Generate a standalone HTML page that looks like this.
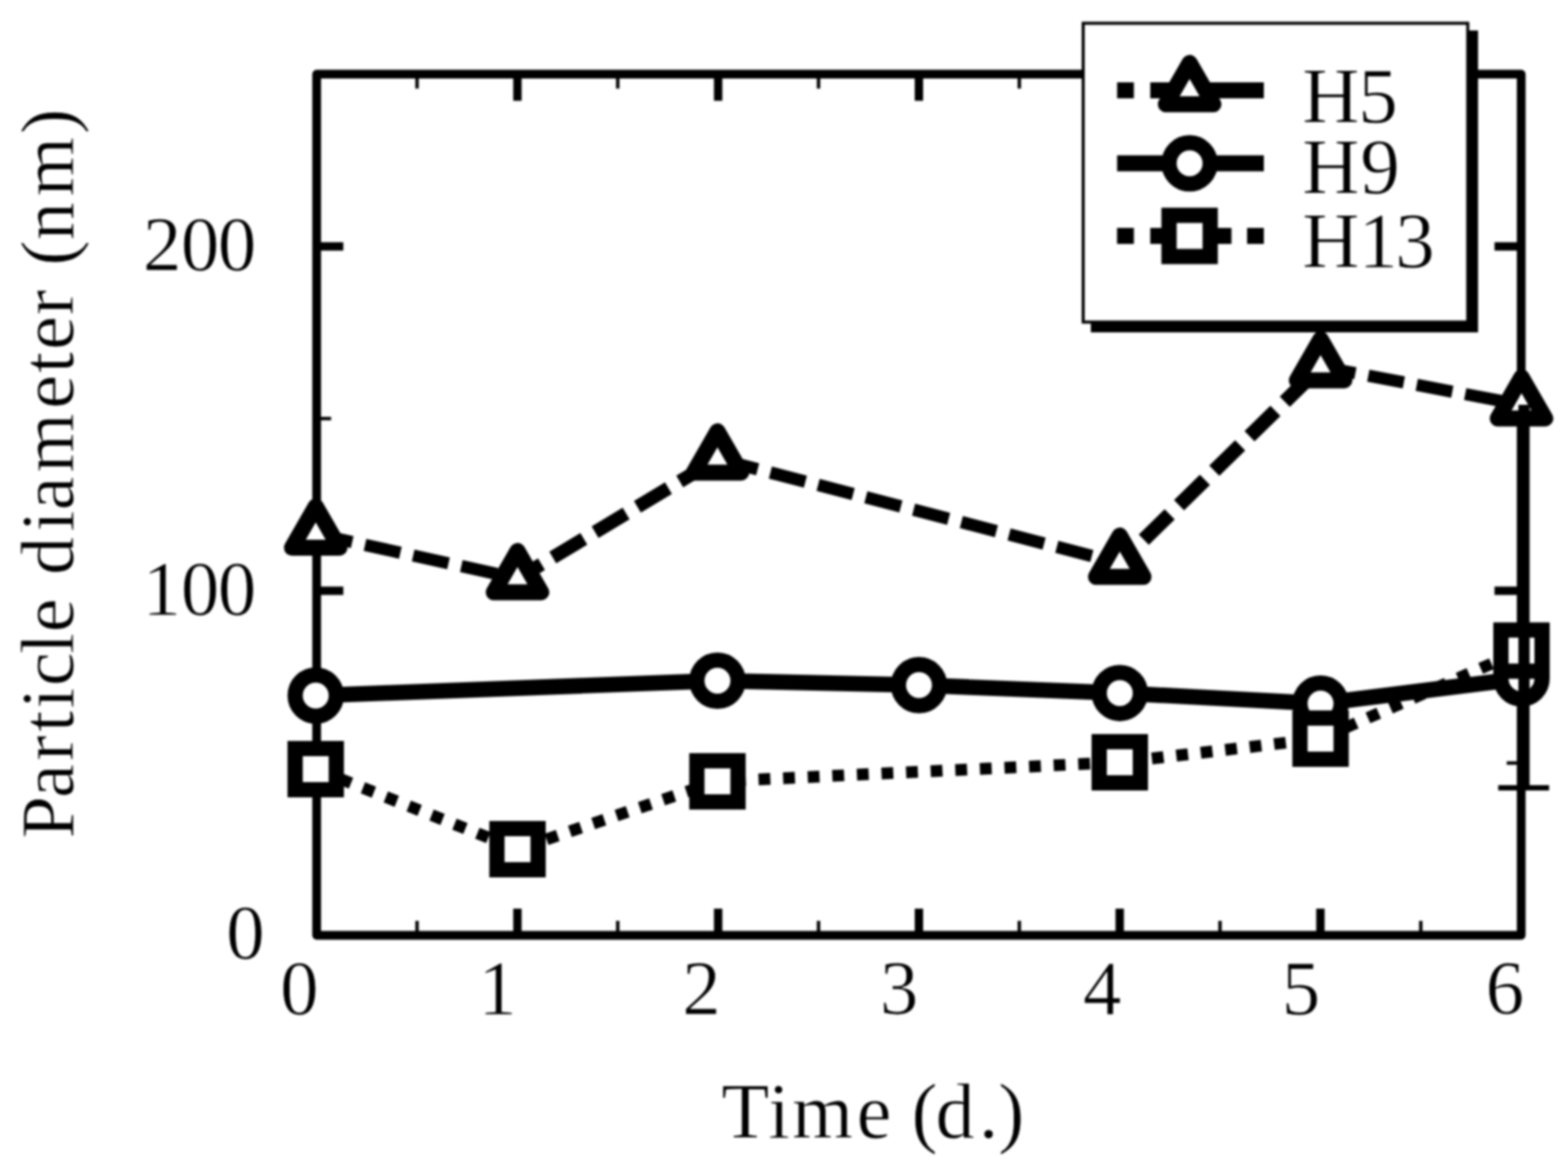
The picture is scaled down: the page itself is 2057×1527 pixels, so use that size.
<!DOCTYPE html>
<html lang="en"><head><meta charset="utf-8"><title>Particle diameter vs. time</title>
<style>html,body{margin:0;padding:0;background:#fff;}body{width:2057px;height:1527px;overflow:hidden;}svg{display:block;filter:blur(1.4px);}text{font-family:"Liberation Serif","DejaVu Serif",serif;fill:#000;}</style>
</head><body>
<svg width="2057" height="1527" viewBox="0 0 2057 1527">
<rect x="0" y="0" width="2057" height="1527" fill="#fff"/>
<g id="axes" stroke="#000" fill="none" stroke-linecap="round">
<rect x="415.4" y="97.2" width="1580.2" height="1129.8" stroke-width="11.5" stroke-linejoin="round"/>
<line x1="678.8" y1="1227.0" x2="678.8" y2="1192.0" stroke-width="11.0" stroke-linecap="butt"/>
<line x1="678.8" y1="97.2" x2="678.8" y2="132.2" stroke-width="11.0" stroke-linecap="butt"/>
<line x1="942.1" y1="1227.0" x2="942.1" y2="1192.0" stroke-width="11.0" stroke-linecap="butt"/>
<line x1="942.1" y1="97.2" x2="942.1" y2="132.2" stroke-width="11.0" stroke-linecap="butt"/>
<line x1="1205.5" y1="1227.0" x2="1205.5" y2="1192.0" stroke-width="11.0" stroke-linecap="butt"/>
<line x1="1205.5" y1="97.2" x2="1205.5" y2="132.2" stroke-width="11.0" stroke-linecap="butt"/>
<line x1="1468.9" y1="1227.0" x2="1468.9" y2="1192.0" stroke-width="11.0" stroke-linecap="butt"/>
<line x1="1468.9" y1="97.2" x2="1468.9" y2="132.2" stroke-width="11.0" stroke-linecap="butt"/>
<line x1="1732.2" y1="1227.0" x2="1732.2" y2="1192.0" stroke-width="11.0" stroke-linecap="butt"/>
<line x1="1732.2" y1="97.2" x2="1732.2" y2="132.2" stroke-width="11.0" stroke-linecap="butt"/>
<line x1="547.1" y1="1227.0" x2="547.1" y2="1208.0" stroke-width="4.5" stroke-linecap="butt"/>
<line x1="547.1" y1="97.2" x2="547.1" y2="116.2" stroke-width="4.5" stroke-linecap="butt"/>
<line x1="810.4" y1="1227.0" x2="810.4" y2="1208.0" stroke-width="4.5" stroke-linecap="butt"/>
<line x1="810.4" y1="97.2" x2="810.4" y2="116.2" stroke-width="4.5" stroke-linecap="butt"/>
<line x1="1073.8" y1="1227.0" x2="1073.8" y2="1208.0" stroke-width="4.5" stroke-linecap="butt"/>
<line x1="1073.8" y1="97.2" x2="1073.8" y2="116.2" stroke-width="4.5" stroke-linecap="butt"/>
<line x1="1337.2" y1="1227.0" x2="1337.2" y2="1208.0" stroke-width="4.5" stroke-linecap="butt"/>
<line x1="1337.2" y1="97.2" x2="1337.2" y2="116.2" stroke-width="4.5" stroke-linecap="butt"/>
<line x1="1600.5" y1="1227.0" x2="1600.5" y2="1208.0" stroke-width="4.5" stroke-linecap="butt"/>
<line x1="1600.5" y1="97.2" x2="1600.5" y2="116.2" stroke-width="4.5" stroke-linecap="butt"/>
<line x1="1863.9" y1="1227.0" x2="1863.9" y2="1208.0" stroke-width="4.5" stroke-linecap="butt"/>
<line x1="1863.9" y1="97.2" x2="1863.9" y2="116.2" stroke-width="4.5" stroke-linecap="butt"/>
<line x1="415.4" y1="775.1" x2="450.4" y2="775.1" stroke-width="11.0" stroke-linecap="butt"/>
<line x1="1995.6" y1="775.1" x2="1960.6" y2="775.1" stroke-width="11.0" stroke-linecap="butt"/>
<line x1="415.4" y1="323.2" x2="450.4" y2="323.2" stroke-width="11.0" stroke-linecap="butt"/>
<line x1="1995.6" y1="323.2" x2="1960.6" y2="323.2" stroke-width="11.0" stroke-linecap="butt"/>
<line x1="415.4" y1="1001.0" x2="434.4" y2="1001.0" stroke-width="4.5" stroke-linecap="butt"/>
<line x1="1995.6" y1="1001.0" x2="1976.6" y2="1001.0" stroke-width="4.5" stroke-linecap="butt"/>
<line x1="415.4" y1="549.1" x2="434.4" y2="549.1" stroke-width="4.5" stroke-linecap="butt"/>
<line x1="1995.6" y1="549.1" x2="1976.6" y2="549.1" stroke-width="4.5" stroke-linecap="butt"/>
</g>
<g id="series" stroke="#000" fill="none">
<line x1="414.2" y1="700.5" x2="678.9" y2="759.0" stroke-width="16.1" stroke-dasharray="47.5 17.2" stroke-dashoffset="63.2"/>
<line x1="678.9" y1="759.0" x2="941.2" y2="602.0" stroke-width="17.7" stroke-dasharray="47.5 17.2" stroke-dashoffset="10.8"/>
<line x1="941.2" y1="602.0" x2="1469.0" y2="738.8" stroke-width="16.3" stroke-dasharray="47.5 17.2" stroke-dashoffset="57.7"/>
<line x1="1469.0" y1="738.8" x2="1732.4" y2="481.0" stroke-width="18.9" stroke-dasharray="47.5 17.2" stroke-dashoffset="20.6"/>
<line x1="1732.4" y1="481.0" x2="1996.0" y2="531.0" stroke-width="16.0" stroke-dasharray="47.5 17.2" stroke-dashoffset="1.0"/>
<polyline points="414.2,912.5 941.2,893.0 1205.6,898.8 1469.0,909.2 1732.4,923.0 1996.0,890.0" stroke-width="20.5" stroke-linejoin="round"/>
<polyline points="414.2,1009.0 678.9,1114.0 941.2,1025.0 1469.0,1000.0 1732.4,969.0 1996.0,853.5" stroke-width="15.5" stroke-dasharray="15.5 16.8" stroke-dashoffset="-2"/>
<path d="M414.2 664.3 L445.4 718.5 L383.0 718.5 Z" stroke-width="21" stroke-linejoin="round" fill="#fff"/>
<path d="M678.9 722.8 L710.1 777.0 L647.7 777.0 Z" stroke-width="21" stroke-linejoin="round" fill="#fff"/>
<path d="M941.2 565.8 L972.4 620.0 L910.0 620.0 Z" stroke-width="21" stroke-linejoin="round" fill="#fff"/>
<path d="M1469.0 702.6 L1500.2 756.8 L1437.8 756.8 Z" stroke-width="21" stroke-linejoin="round" fill="#fff"/>
<path d="M1732.4 444.8 L1763.6 499.0 L1701.2 499.0 Z" stroke-width="21" stroke-linejoin="round" fill="#fff"/>
<path d="M1996.0 494.8 L2027.2 549.0 L1964.8 549.0 Z" stroke-width="21" stroke-linejoin="round" fill="#fff"/>
<circle cx="414.2" cy="912.5" r="27" stroke-width="20" fill="#fff"/>
<circle cx="941.2" cy="893.0" r="27" stroke-width="20" fill="#fff"/>
<circle cx="1205.6" cy="898.8" r="27" stroke-width="20" fill="#fff"/>
<circle cx="1469.0" cy="909.2" r="27" stroke-width="20" fill="#fff"/>
<circle cx="1732.4" cy="923.0" r="27" stroke-width="20" fill="#fff"/>
<circle cx="1996.0" cy="890.0" r="27" stroke-width="20" fill="#fff"/>
<rect x="387.2" y="982.0" width="54" height="54" stroke-width="20" fill="#fff"/>
<rect x="651.9" y="1087.0" width="54" height="54" stroke-width="20" fill="#fff"/>
<rect x="914.2" y="998.0" width="54" height="54" stroke-width="20" fill="#fff"/>
<rect x="1442.0" y="973.0" width="54" height="54" stroke-width="20" fill="#fff"/>
<rect x="1705.4" y="942.0" width="54" height="54" stroke-width="20" fill="#fff"/>
<rect x="1969.0" y="826.5" width="54" height="54" stroke-width="20" fill="#fff"/>
<line x1="1999.3" y1="531" x2="1999.3" y2="1033.5" stroke-width="14.7"/>
<line x1="1965.5" y1="1033.5" x2="2032.2" y2="1033.5" stroke-width="7"/>
</g>
<g id="legend" stroke="#000">
<rect x="1431" y="40" width="508" height="396" fill="#000" stroke="none"/>
<rect x="1421" y="30.5" width="504.5" height="392" fill="#fff" stroke-width="4"/>
<g fill="none">
<line x1="1465.5" y1="118.5" x2="1487.5" y2="118.5" stroke-width="21"/>
<line x1="1509" y1="118.5" x2="1658" y2="118.5" stroke-width="21"/>
<path d="M1560.6 82.6 L1591.8 136.8 L1529.4 136.8 Z" stroke-width="21" stroke-linejoin="round" fill="#fff"/>
<line x1="1465.5" y1="214.3" x2="1658" y2="214.3" stroke-width="21"/>
<circle cx="1560.6" cy="214.3" r="27" stroke-width="20" fill="#fff"/>
<path d="M1465.4 309.5H1487.5M1509 309.5H1531M1594 309.5H1615.5M1636 309.5H1658" stroke-width="21"/>
<rect x="1533.6" y="282.5" width="54" height="54" stroke-width="20" fill="#fff"/>
</g></g>
<g id="labels" xml:space="preserve" stroke="#fff" stroke-width="0.9">
<text x="1708.3 1781.7" y="160.7" font-size="104.0">H5</text>
<text x="1708.3 1784.5" y="253.8" font-size="104.0">H9</text>
<text x="1708.3 1781.9 1830.2" y="351.1" font-size="104.0">H13</text>
<text x="187.5 237.2 285.7" y="354.5" font-size="101.0">200</text>
<text x="186.9 237.2 285.7" y="807.0" font-size="101.0">100</text>
<text x="296.8" y="1257.5" font-size="101.0">0</text>
<text x="367.4" y="1330.5" font-size="101.0">0</text>
<text x="627.5" y="1330.5" font-size="101.0">1</text>
<text x="894.9" y="1330.5" font-size="101.0">2</text>
<text x="1154.3" y="1330.5" font-size="101.0">3</text>
<text x="1420.8" y="1330.5" font-size="101.0">4</text>
<text x="1681.5" y="1330.5" font-size="101.0">5</text>
<text x="1949.1" y="1330.5" font-size="101.0">6</text>
<text x="946.2 1007.7 1039.0 1123.7 1169.4 1195.8 1227.3 1283.9 1309.4" y="1492.9" font-size="103.0">Time (d.)</text>
<text transform="translate(95.6,0) rotate(-90)" x="-1100.0 -1046.8 -998.3 -960.2 -929.8 -900.0 -858.0 -829.4 -785.0 -754.3 -697.4 -669.5 -620.1 -536.3 -489.5 -459.0 -413.6 -380.3 -348.4 -315.2 -257.4 -175.9" y="0" font-size="100.0">Particle diameter (nm)</text>
</g>
</svg>
</body></html>
